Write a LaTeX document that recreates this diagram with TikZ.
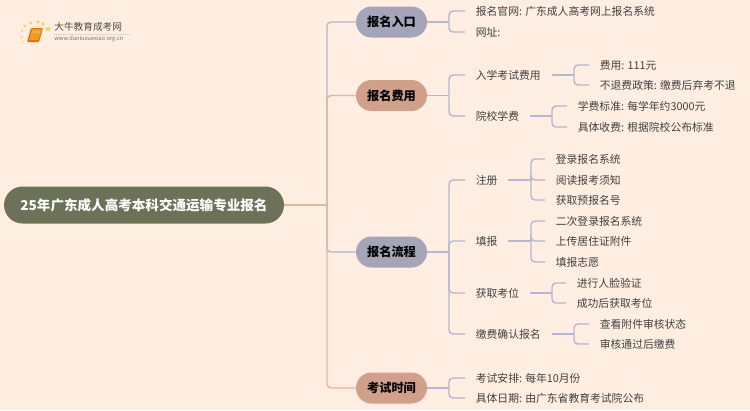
\documentclass[tikz,border=0pt]{standalone}
\usepackage{fontspec}
\setmainfont{Noto Sans CJK SC}
\usetikzlibrary{shapes}
\definecolor{paper}{HTML}{FFEEE1}
\definecolor{rootfill}{HTML}{6B7257}
\definecolor{slate}{HTML}{A5A5B9}
\definecolor{clay}{HTML}{D0A088}
\definecolor{slateline}{HTML}{B4B7CF}
\definecolor{clayline}{HTML}{E3B59E}
\definecolor{inktext}{HTML}{404040}
\definecolor{bookfill}{HTML}{F09A1E}
\definecolor{bookedge}{HTML}{E0700F}
\definecolor{sparkfill}{HTML}{FAD24F}
\tikzset{x=.02cm,y=-.02cm,
 rootbox/.style={draw=none,fill=rootfill,rounded corners=.37cm,minimum width=5.6cm,minimum height=.74cm,
  inner sep=0pt,text=white,font=\fontsize{7.72}{9}\selectfont\bfseries},
 headbox/.style={draw=none,rounded corners=.31cm,minimum width=1.42cm,minimum height=.62cm,
  inner sep=0pt,text=black,font=\fontsize{6.95}{9}\selectfont\bfseries},
 leaf/.style={anchor=west,inner ysep=0pt,inner xsep=.21cm,text=inktext,font=\fontsize{6.15}{8}\selectfont},
 link/.style={draw=slateline,line width=.8pt,rounded corners=.08cm},
 warm/.style={link,draw=clayline},
}
\begin{document}
\begin{tikzpicture}
        \useasboundingbox [fill=paper] (0, 0) rectangle (750, 410);
        % logo
        \fill [bookedge, rounded corners=.02cm] (31, 28) -- (43, 28) -- (39, 42) -- (27, 42) -- cycle;
        \fill [bookfill] (32, 29) -- (42, 29) -- (38.5, 40) -- (29, 40) -- cycle;
        \fill [bookedge!60!white] (32, 31) -- (40.5, 31) -- (40, 33) -- (31.5, 33) -- cycle;
        \foreach \px/\py/\pr in {23/42/.8, 22/37/1, 22/31/1.2, 25/26/1.4, 31/23/1.7, 38/22/1.8, 43/24/1.9, 48/29/2.1}
            \fill [sparkfill] (\px, \py) circle (\pr);
        \node [anchor=west, inner sep=0pt, text=black!70, font=\fontsize{5.5}{7}\selectfont] (logotext) at (54, 27) {大牛教育成考网};
        \node [anchor=west, inner sep=0pt, text=black!55, font=\fontsize{3.25}{5}\selectfont] (logourl) at (54, 39) {www.daniuxuexiao.org.cn};
        \fill [black!15] (54, 33.5) rectangle (130, 34);
        % first level
        \node [rootbox] (root) at (144, 205) {25年广东成人高考本科交通运输专业报名};
        \node [headbox, fill=slate] (entry) at (391.5, 22) {报名入口};
        \node [headbox, fill=clay] (fees) at (391.5, 95.5) {报名费用};
        \node [headbox, fill=slate] (steps) at (391.5, 252) {报名流程};
        \node [headbox, fill=clay] (dates) at (391.5, 388) {考试时间};
        \coordinate (trunk) at (327, 205);
        \draw [link] (entry.west) -| (trunk);
        \draw [link] (steps.west) -| (trunk);
        \draw [warm] (fees.west) -| (trunk);
        \draw [warm] (dates.west) -| (trunk);
        \draw [warm] (root.east) -- (trunk);
        % second level
        \node [leaf] (site) at (465, 11) {报名官网: 广东成人高考网上报名系统};
        \node [leaf] (addr) at (465, 32) {网址:};
        \node [leaf] (exam) at (465, 75) {入学考试费用};
        \node [leaf] (tuition) at (465, 116) {院校学费};
        \node [leaf] (signup) at (465, 180) {注册};
        \node [leaf] (fill) at (465, 241) {填报};
        \node [leaf] (seat) at (465, 293) {获取考位};
        \node [leaf] (pay) at (465, 334) {缴费确认报名};
        \node [leaf] (plan) at (465, 378) {考试安排: 每年10月份};
        \node [leaf] (day) at (465, 398) {具体日期: 由广东省教育考试院公布};
        \foreach \head/\first/\second in {entry/site/addr, fees/exam/tuition, dates/plan/day} {
            \coordinate (j\head) at (449, 0 |- \head);
            \draw [link] (\head.east) -- (j\head);
            \draw [link] (j\head) |- (\first.west);
            \draw [link] (j\head) |- (\second.west);
        }
        \coordinate (jsteps) at (449, 0 |- steps);
        \draw [link] (steps.east) -- (jsteps);
        \foreach \kid in {signup, fill, seat, pay}
            \draw [link] (jsteps) |- (\kid.west);
        % third level
        \node [leaf] (fee) at (589, 65) {费用: 111元};
        \node [leaf] (norefund) at (589, 85) {不退费政策: 缴费后弃考不退};
        \node [leaf] (yearly) at (567, 106) {学费标准: 每学年约3000元};
        \node [leaf] (actual) at (567, 127) {具体收费: 根据院校公布标准};
        \node [leaf] (login) at (545, 159) {登录报名系统};
        \node [leaf] (notice) at (545, 180) {阅读报考须知};
        \node [leaf] (number) at (545, 200) {获取预报名号};
        \node [leaf] (relogin) at (545, 221) {二次登录报名系统};
        \node [leaf] (upload) at (545, 241) {上传居住证附件};
        \node [leaf] (wish) at (545, 262) {填报志愿};
        \node [leaf] (face) at (566, 283) {进行人脸验证};
        \node [leaf] (gotseat) at (566, 303) {成功后获取考位};
        \node [leaf] (check) at (589, 324) {查看附件审核状态};
        \node [leaf] (paid) at (589, 344) {审核通过后缴费};
        \foreach \parent/\px/\kids in {exam/574/{fee,norefund}, tuition/552/{yearly,actual},
            signup/531/{login,notice,number}, fill/531/{relogin,upload,wish},
            seat/552/{face,gotseat}, pay/574/{check,paid}} {
            \coordinate (j\parent) at (\px, 0 |- \parent);
            \draw [link] (\parent.east) -- (j\parent);
            \foreach \kid in \kids
                \draw [link] (j\parent) |- (\kid.west);
        }
    \end{tikzpicture}
\end{document}
